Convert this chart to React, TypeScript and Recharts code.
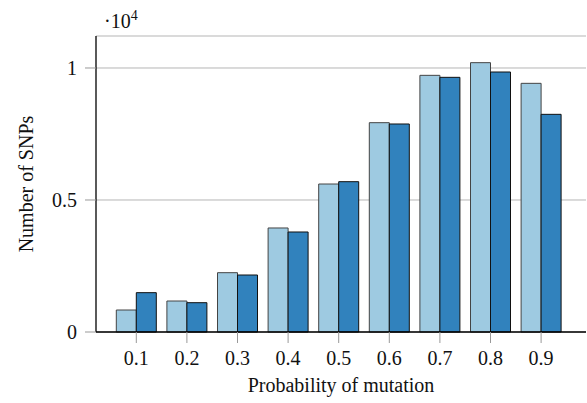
import React from "react";
import {
    BarChart,
    Bar,
    XAxis,
    YAxis,
    CartesianGrid,
} from "recharts";

const probabilities = ["0.1", "0.2", "0.3", "0.4", "0.5", "0.6", "0.7", "0.8", "0.9"];
const seriesA = [833, 1174, 2247, 3940, 5606, 7929, 9722, 10202, 9419];
const seriesB = [1490, 1110, 2159, 3788, 5694, 7879, 9646, 9848, 8245];
const yTicks = [0, 5000, 10000];

const data = probabilities.map((p, i) => ({ p, a: seriesA[i], b: seriesB[i] }));

const font = "'Liberation Serif', 'Times New Roman', serif";

const App: React.FC = () => (
    <div style={{ position: "absolute", left: 0, top: 0, width: 587, height: 403, fontFamily: font }}>
        <BarChart
            width={587}
            height={403}
            data={data}
            margin={{ top: 36, right: 1, left: 0, bottom: 0 }}
            barGap={0}
            barCategoryGap={5.3}
        >
            <CartesianGrid horizontal vertical={false} stroke="#b5b5b5" strokeWidth={1} />
            <XAxis
                dataKey="p"
                height={71}
                padding={{ left: 15, right: 19.6 }}
                axisLine={{ stroke: "#000", strokeWidth: 1.3 }}
                tickLine={{ stroke: "#999" }}
                tickSize={11}
                tickMargin={8}
                tick={{ fill: "#111", fontSize: 20, fontFamily: font }}
                label={{
                    value: "Probability of mutation",
                    position: "insideBottom",
                    offset: 11,
                    fill: "#111",
                    fontSize: 20,
                    fontFamily: font,
                }}
            />
            <YAxis
                width={96}
                domain={[0, 11212]}
                ticks={yTicks}
                tickFormatter={(v: number) => String(v / 10000)}
                axisLine={{ stroke: "#000", strokeWidth: 1.3 }}
                tickLine={{ stroke: "#999" }}
                tickSize={11}
                tickMargin={8}
                tick={{ fill: "#111", fontSize: 20, fontFamily: font }}
                label={{
                    value: "Number of SNPs",
                    angle: -90,
                    position: "insideLeft",
                    offset: 26,
                    style: { textAnchor: "middle" },
                    fill: "#111",
                    fontSize: 20,
                    fontFamily: font,
                }}
            />
            <Bar dataKey="a" fill="#9ecae1" stroke="#444" strokeWidth={1} isAnimationActive={false} />
            <Bar dataKey="b" fill="#3182bd" stroke="#111" strokeWidth={1} isAnimationActive={false} />
        </BarChart>
        <div style={{ position: "absolute", left: 104, top: 4, fontSize: 20, lineHeight: "24px", color: "#111" }}>
            ·10<sup style={{ fontSize: 14 }}>4</sup>
        </div>
    </div>
);

export default App;
